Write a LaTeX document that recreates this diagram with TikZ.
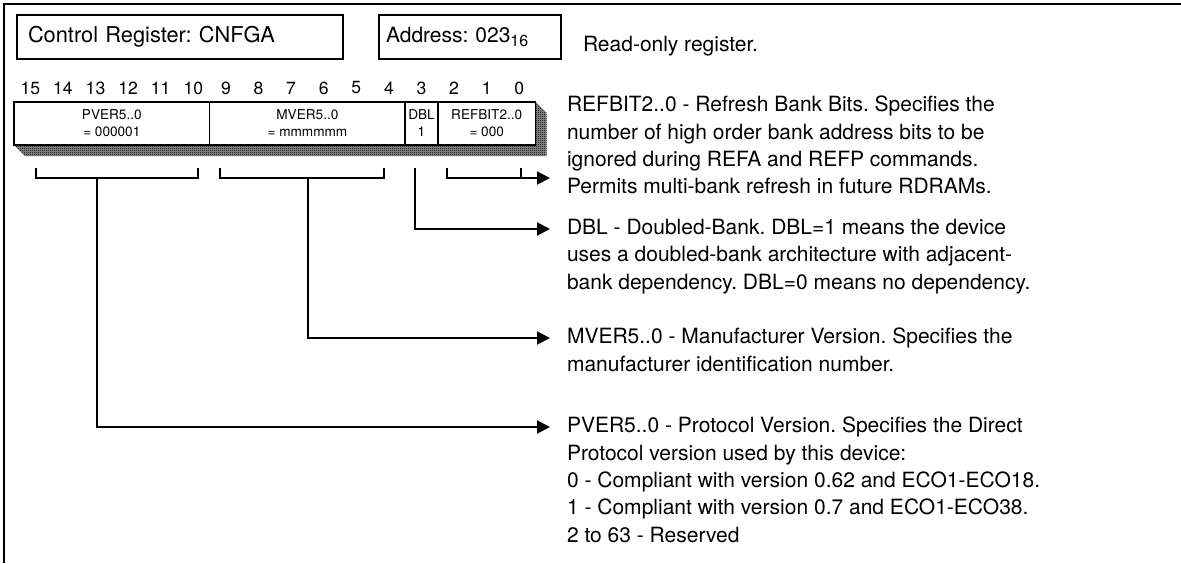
\documentclass[tikz,border=0pt]{standalone}
\usepackage{fontspec}
\setmainfont{TeX Gyre Heros}
\usepackage{tikz}
\usetikzlibrary{arrows.meta,patterns,positioning,backgrounds}
\frenchspacing

\pgfdeclarepatternformonly{regshade}{\pgfqpoint{0pt}{0pt}}{\pgfqpoint{1pt}{1pt}}{\pgfqpoint{1pt}{1pt}}{%
  \pgfpathrectangle{\pgfqpoint{0pt}{0pt}}{\pgfqpoint{0.5pt}{0.5pt}}%
  \pgfpathrectangle{\pgfqpoint{0.5pt}{0.5pt}}{\pgfqpoint{0.5pt}{0.5pt}}%
  \pgfusepath{fill}}

\begin{document}
\begin{tikzpicture}[x=0.5pt,y=-0.5pt,
    every node/.style={inner sep=0pt,outer sep=0pt},
    titlebox/.style={draw,line width=0.8pt,anchor=north west,minimum height=22pt,
      align=left,font=\fontsize{10.5}{13}\selectfont},
    field/.style={draw,line width=0.8pt,fill=white,minimum height=21.5pt,
      align=center,font=\fontsize{6.8}{8.5}\selectfont},
    bitnum/.style={font=\fontsize{8.8}{10}\selectfont},
    desc/.style={anchor=north west,align=left,font=\fontsize{10.5}{13.7}\selectfont},
    conn/.style={line width=1pt},
    arrowconn/.style={conn,-{Triangle[length=6.5pt,width=6.5pt]}}]
    \useasboundingbox (0,0) rectangle (1181,563);

    % frame
    \draw[line width=1.2pt] (4,563) -- (4,4) -- (1181,4);

    % header
    \node[titlebox,inner xsep=5.5pt,text width=152pt,font=\fontsize{10.9}{13}\selectfont] (regname) at (17,15) {Control Register: CNFGA};
    \node[titlebox,inner xsep=3.5pt,text width=84pt] (regaddr) at (379,15)
        {Address: 023\raisebox{-0.35ex}{\fontsize{8}{9}\selectfont 16}};
    \node[desc,anchor=west] (ronly) at (583,46) {Read-only register.};

    % bit numbers
    \foreach \b in {0,...,15}
        \node[bitnum] (bit\b) at ({14+(15.5-\b)*32.6},88) {\b};

    % register fields
    \node[field,anchor=north west,minimum width=97.8pt] (pver) at (14,102) {PVER5..0\\= 000001};
    \node[field,minimum width=97.8pt,right=0pt of pver] (mver) {MVER5..0\\= mmmmmm};
    \node[field,minimum width=16.3pt,right=0pt of mver] (dbl) {DBL\\1};
    \node[field,minimum width=48.9pt,right=0pt of dbl] (refbit) {REFBIT2..0\\= 000};

    \begin{scope}[on background layer]
        \path[fill=black!45,postaction={pattern=regshade}] (pver.south west) -- (refbit.south east) -- (refbit.north east)
            -- ([shift={(11,11)}]refbit.north east) -- ([shift={(11,11)}]refbit.south east)
            -- ([shift={(11,11)}]pver.south west) -- cycle;
    \end{scope}

    % brackets
    \coordinate (pverstem) at (97,178);
    \coordinate (mverstem) at (308,178);
    \coordinate (dblstem) at (415,168);
    \draw[conn] (36,168) -- (36,178) -- (198,178) -- (198,168);
    \draw[conn] (220,168) -- (220,178) -- (384,178) -- (384,168);
    \draw[conn] (521,168) -- (521,178);

    % arrow ends
    \coordinate (refbittip) at (550,178);
    \coordinate (dbltip) at (550,229);
    \coordinate (mvertip) at (550,338);
    \coordinate (pvertip) at (550,427);

    \draw[arrowconn] (447,168) -- (447,178) -- (refbittip);
    \draw[arrowconn] (dblstem) |- (dbltip);
    \draw[arrowconn] (mverstem) |- (mvertip);
    \draw[arrowconn] (pverstem) |- (pvertip);

    % descriptions
    \node[desc] (refbittxt) at (567,96) {REFBIT2..0 - Refresh Bank Bits. Specifies the\\
        number of high order bank address bits to be\\
        ignored during REFA and REFP commands.\\
        Permits multi-bank refresh in future RDRAMs.};
    \node[desc] (dbltxt) at ([shift={(17,-10)}]dbltip) {DBL - Doubled-Bank. DBL=1 means the device\\
        uses a doubled-bank architecture with adjacent-\\
        bank dependency. DBL=0 means no dependency.};
    \node[desc] (mvertxt) at ([shift={(17,-10)}]mvertip) {MVER5..0 - Manufacturer Version. Specifies the\\
        manufacturer identification number.};
    \node[desc] (pvertxt) at ([shift={(17,-10)}]pvertip) {PVER5..0 - Protocol Version. Specifies the Direct\\
        Protocol version used by this device:\\
        0 - Compliant with version 0.62 and ECO1-ECO18.\\
        1 - Compliant with version 0.7 and ECO1-ECO38.\\
        2 to 63 - Reserved};
\end{tikzpicture}
\end{document}
